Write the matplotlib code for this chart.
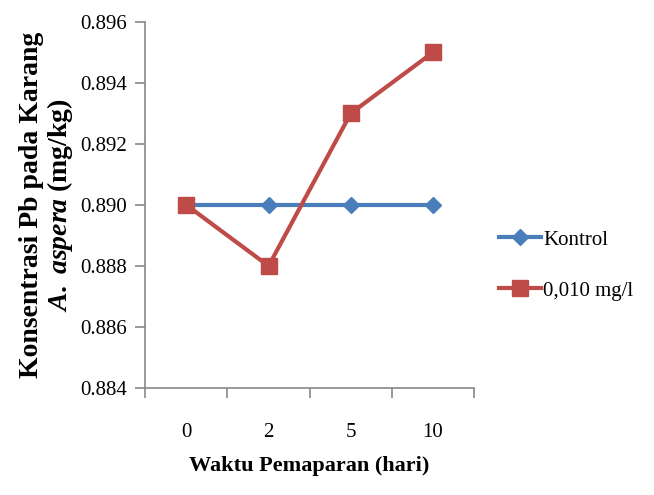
import matplotlib
matplotlib.use("Agg")
import matplotlib.pyplot as plt
import numpy as np

days = ["0", "2", "5", "10"]
kontrol = [0.890, 0.890, 0.890, 0.890]
dosis = [0.890, 0.888, 0.893, 0.895]
yticks = [0.884, 0.886, 0.888, 0.890, 0.892, 0.894, 0.896]

plt.rcParams['font.family'] = ['Liberation Serif']
plt.rcParams['mathtext.fontset'] = 'custom'
plt.rcParams['mathtext.it'] = 'Liberation Serif:italic:bold'
plt.rcParams['mathtext.rm'] = 'Liberation Serif:bold'

fig = plt.figure(figsize=(6.54, 4.95), dpi=100)
ax = fig.add_axes([0.222, 0.216, 0.503, 0.74])

x = np.arange(len(days))
ax.plot(x, kontrol, color="#4A7EBB", lw=3, marker="D", ms=8, label="Kontrol")
ax.plot(x, dosis, color="#BE4B48", lw=3, marker="s", ms=11, label="0,010 mg/l")

ax.set_xlim(-0.5, len(days) - 0.5)
ax.set_ylim(0.884, 0.896)
ax.set_yticks(yticks)
ax.set_yticklabels([f"{v:.3f}" for v in yticks])
ax.set_xticks(x)
ax.set_xticklabels(days)
ax.set_xticks(np.arange(len(days) + 1) - 0.5, minor=True)

for s in ["top", "right"]:
    ax.spines[s].set_visible(False)
for s in ["left", "bottom"]:
    ax.spines[s].set_color("#888888")
    ax.spines[s].set_linewidth(1.2)

ax.tick_params(axis="x", which="major", length=0, pad=25, labelsize=15)
ax.tick_params(axis="x", which="minor", length=7, color="#888888", width=1.2)
ax.tick_params(axis="y", length=7, color="#888888", width=1.2, pad=6, labelsize=15)

ax.set_xlabel("Waktu Pemaparan (hari)", fontsize=16, fontweight="bold", labelpad=10)
ax.set_ylabel("Konsentrasi Pb pada Karang\n$A.$ $aspera$ (mg/kg)", fontsize=20,
              fontweight="bold", labelpad=4, linespacing=1.05)

ax.legend(loc="center left", bbox_to_anchor=(1.02, 0.335), frameon=False,
          fontsize=15, handlelength=2.0, labelspacing=1.5, handletextpad=0.1)

fig.savefig("out.png", dpi=100)
